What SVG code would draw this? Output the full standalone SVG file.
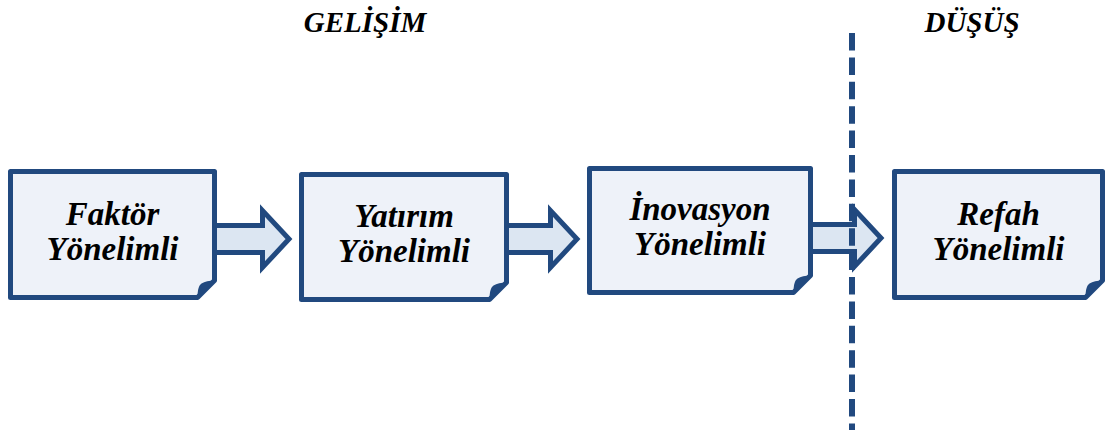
<svg xmlns="http://www.w3.org/2000/svg" width="1109" height="436" viewBox="0 0 1109 436">
<style>
.box{fill:#eef2f9;stroke:#21497f;stroke-width:5;stroke-linejoin:round}
.fold{fill:#21497f}
.arrow{fill:#dce6f2;stroke:#21497f;stroke-width:5;stroke-linejoin:miter}
.lbl{font-family:"Liberation Serif","Times New Roman",serif;font-weight:bold;font-style:italic;font-size:33px;fill:#000;text-anchor:middle}
.title{font-family:"Liberation Serif","Times New Roman",serif;font-weight:bold;font-style:italic;font-size:29px;fill:#000;text-anchor:middle}
.divider{stroke:#21497f;stroke-width:6;stroke-dasharray:17.5 6.9;fill:none}
</style>
<rect width="1109" height="436" fill="#ffffff"/>
<text class="title" x="365" y="32">GELİŞİM</text>
<text class="title" x="972" y="32">DÜŞÜŞ</text>
<g id="connectors">
<path class="arrow" d="M200 225.5 H262.5 V210.5 L289 239 L262.5 267.5 V252.5 H200 Z"/>
<path class="arrow" d="M490 225.5 H550.5 V210.5 L577 239 L550.5 267.5 V252.5 H490 Z"/>
<path class="arrow" d="M795 224.5 H854.5 V209.5 L881 238 L854.5 266.5 V251.5 H795 Z"/>
<line class="divider" x1="852" y1="33" x2="852" y2="430"/>
</g>
<g id="node-faktor">
<path class="box" d="M10.5 171.5 H214.5 V280.5 L197.5 297.5 H10.5 Z"/>
<path class="fold" d="M214.5 280.5 L197.5 297.5 C197.5 290.5 198.5 285.5 201.5 283.5 C204.5 281.5 209.5 280.5 214.5 280.5 Z"/>
<text class="lbl" x="112.5" y="225">Faktör</text>
<text class="lbl" x="112.5" y="260">Yönelimli</text>
</g>
<g id="node-yatirim">
<path class="box" d="M301.5 174.5 H506.5 V282.5 L489.5 299.5 H301.5 Z"/>
<path class="fold" d="M506.5 282.5 L489.5 299.5 C489.5 292.5 490.5 287.5 493.5 285.5 C496.5 283.5 501.5 282.5 506.5 282.5 Z"/>
<text class="lbl" x="404" y="227">Yatırım</text>
<text class="lbl" x="404" y="262">Yönelimli</text>
</g>
<g id="node-inovasyon">
<path class="box" d="M589.5 168.5 H810.5 V275.5 L793.5 292.5 H589.5 Z"/>
<path class="fold" d="M810.5 275.5 L793.5 292.5 C793.5 285.5 794.5 280.5 797.5 278.5 C800.5 276.5 805.5 275.5 810.5 275.5 Z"/>
<text class="lbl" x="700" y="220">İnovasyon</text>
<text class="lbl" x="700" y="255">Yönelimli</text>
</g>
<g id="node-refah">
<path class="box" d="M894.5 171.5 H1102.5 V280.5 L1085.5 297.5 H894.5 Z"/>
<path class="fold" d="M1102.5 280.5 L1085.5 297.5 C1085.5 290.5 1086.5 285.5 1089.5 283.5 C1092.5 281.5 1097.5 280.5 1102.5 280.5 Z"/>
<text class="lbl" x="998.5" y="225">Refah</text>
<text class="lbl" x="998.5" y="260">Yönelimli</text>
</g>
</svg>
